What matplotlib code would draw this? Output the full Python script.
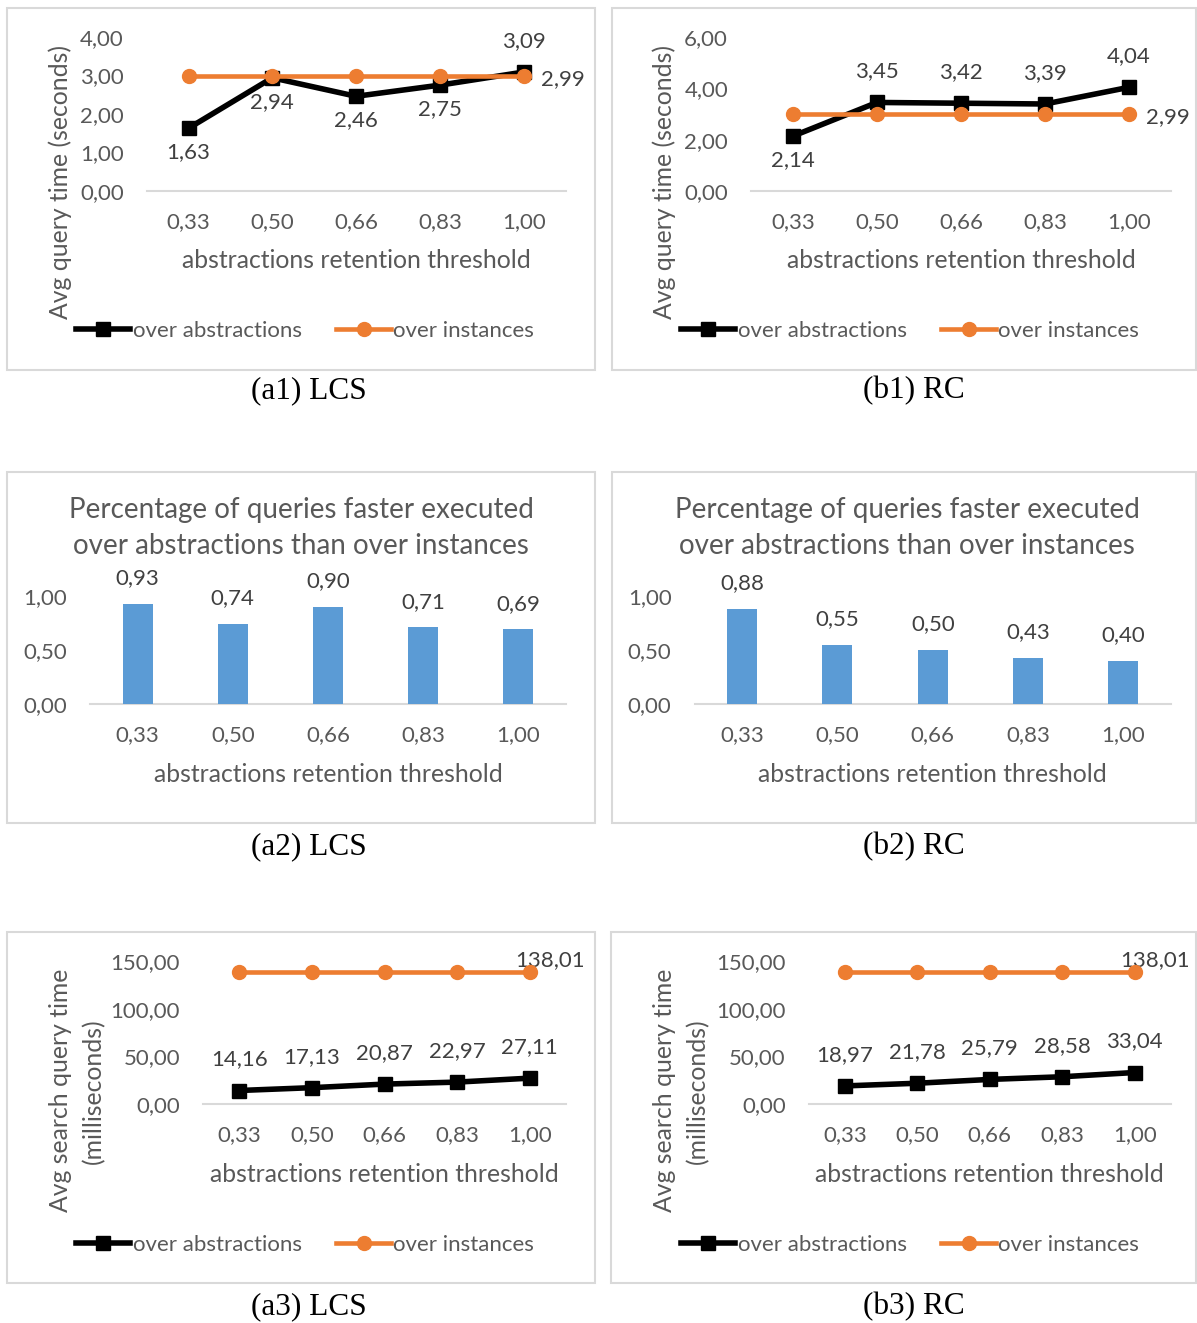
import matplotlib
matplotlib.use("Agg")
import matplotlib.pyplot as plt
from matplotlib.patches import Rectangle
import numpy as np

plt.rcParams['font.family'] = ['Lato', 'DejaVu Sans']

# data
thresholds = ["0,33", "0,50", "0,66", "0,83", "1,00"]
lcs_query_abs = [1.63, 2.94, 2.46, 2.75, 3.09]
lcs_query_inst = [2.99, 2.99, 2.99, 2.99, 2.99]
rc_query_abs = [2.14, 3.45, 3.42, 3.39, 4.04]
rc_query_inst = [2.99, 2.99, 2.99, 2.99, 2.99]
lcs_faster = [0.93, 0.74, 0.90, 0.71, 0.69]
rc_faster = [0.88, 0.55, 0.50, 0.43, 0.40]
lcs_search_abs = [14.16, 17.13, 20.87, 22.97, 27.11]
lcs_search_inst = [138.01, 138.01, 138.01, 138.01, 138.01]
rc_search_abs = [18.97, 21.78, 25.79, 28.58, 33.04]
rc_search_inst = [138.01, 138.01, 138.01, 138.01, 138.01]

# where excel put the data labels
lcs_query_pos = ['below', 'below', 'below', 'below', 'above']
rc_query_pos = ['below', 'above', 'above', 'above', 'above']
search_pos = ['above'] * 5

W, H = 1197, 1323
fig = plt.figure(figsize=(W / 100, H / 100), dpi=100)

GRAY = '#595959'
DARK = '#404040'
ORANGE = '#ED7D31'
BLUE = '#5B9BD5'
FS = 16        # ticks, legend, data labels
FS_AX = 17.8   # axis titles
FS_TI = 20     # bar chart title


def fx(x):
    return x / W


def fy(y):
    return 1 - y / H


def fmt(v):
    return f"{v:.2f}".replace('.', ',')


def make_axes(x0, x1, ytop, ybot):
    ax = fig.add_axes([fx(x0), fy(ybot), (x1 - x0) / W, (ybot - ytop) / H])
    for s in ['top', 'right', 'left']:
        ax.spines[s].set_visible(False)
    ax.spines['bottom'].set_color('#d9d9d9')
    ax.spines['bottom'].set_linewidth(1.5)
    ax.set_xlim(-0.5, 4.5)
    ax.set_xticks(np.arange(5))
    ax.set_xticklabels(thresholds)
    ax.tick_params(length=0, labelsize=FS, colors=GRAY)
    ax.tick_params(axis='y', pad=16.5)
    ax.tick_params(axis='x', pad=15.5)
    ax.set_facecolor('none')
    return ax


def label(ax, x, v, pos):
    offs = {'above': ((0, 22.3), 'center'), 'below': ((0, -17.3), 'center'),
            'right': ((12.5, -2), 'left'), 'upright': ((14.5, 8.6), 'center')}
    off, ha = offs[pos]
    ax.annotate(fmt(v), (x, v), xytext=off, textcoords='offset points',
                ha=ha, va='center', fontsize=FS, color=DARK)


def frame(x0, y0, x1, y1):
    fig.add_artist(Rectangle((fx(x0), fy(y1)), (x1 - x0) / W, (y1 - y0) / H,
                             transform=fig.transFigure, fill=False,
                             ec='#d9d9d9', lw=1.5))


def line_panel(x0, x1, ytop, ybot, abs_vals, inst_vals, ymax, ystep,
               abs_pos, inst_pos, leg_x, leg_y):
    ax = make_axes(x0, x1, ytop, ybot)
    x = np.arange(5)
    ax.plot(x, abs_vals, color='black', lw=4, marker='s', ms=9.5, zorder=3,
            label='over abstractions', clip_on=False)
    ax.plot(x, inst_vals, color=ORANGE, lw=3.3, marker='o', ms=10, zorder=4,
            label='over instances', clip_on=False)
    ax.set_ylim(0, ymax)
    yt = np.arange(0, ymax + ystep / 2, ystep)
    ax.set_yticks(yt)
    ax.set_yticklabels([fmt(v) for v in yt])
    for i, v in enumerate(abs_vals):
        label(ax, i, v, abs_pos[i])
    label(ax, 4, inst_vals[-1], inst_pos)
    ax.legend(loc='center', bbox_to_anchor=(fx(leg_x), fy(leg_y)),
              bbox_transform=fig.transFigure, ncol=2, frameon=False,
              fontsize=FS, handlelength=2.45, handletextpad=0.12,
              columnspacing=1.55, labelcolor=GRAY)
    fig.text(fx((x0 + x1) / 2), fy(ybot + 70), 'abstractions retention threshold',
             ha='center', va='center', fontsize=FS_AX, color=GRAY)
    return ax


def bar_panel(x0, x1, ytop, ybot, vals, title_x):
    ax = make_axes(x0, x1, ytop, ybot)
    x = np.arange(5)
    ax.bar(x, vals, width=0.315, color=BLUE, zorder=3)
    ax.set_ylim(0, 1)
    ax.set_yticks([0, 0.5, 1.0])
    ax.set_yticklabels([fmt(v) for v in [0, 0.5, 1.0]])
    for i, v in enumerate(vals):
        ax.annotate(fmt(v), (i, v), xytext=(0, 18.5), textcoords='offset points',
                    ha='center', va='center', fontsize=FS, color=DARK)
    fig.text(fx(title_x), fy(ytop - 86), 'Percentage of queries faster executed',
             ha='center', va='center', fontsize=FS_TI, color=GRAY)
    fig.text(fx(title_x), fy(ytop - 50), 'over abstractions than over instances',
             ha='center', va='center', fontsize=FS_TI, color=GRAY)
    fig.text(fx((x0 + x1) / 2), fy(ybot + 71), 'abstractions retention threshold',
             ha='center', va='center', fontsize=FS_AX, color=GRAY)
    return ax


# row 1: avg query time
frame(7, 8, 595, 370)
frame(612, 8, 1196, 370)
line_panel(146.6, 565.6, 37, 191, lcs_query_abs, lcs_query_inst, 4, 1,
           lcs_query_pos, 'right', 305, 331)
line_panel(751, 1171, 37, 191, rc_query_abs, rc_query_inst, 6, 2,
           rc_query_pos, 'right', 910, 331)
for xc in [60, 664]:
    fig.text(fx(xc), fy(182), 'Avg query time (seconds)', rotation=90,
             ha='center', va='center', fontsize=FS_AX, color=GRAY)

# row 2: percentage faster
frame(7, 472, 595, 823)
frame(612, 472, 1196, 823)
bar_panel(90, 566, 596, 704, lcs_faster, 301)
bar_panel(694.5, 1171, 596, 704, rc_faster, 907)

# row 3: avg search query time
frame(7, 932, 595, 1283)
frame(611, 932, 1196, 1283)
line_panel(203, 566, 961, 1104, lcs_search_abs, lcs_search_inst, 150, 50,
           search_pos, 'upright', 305, 1245)
line_panel(808.6, 1171, 961, 1104, rc_search_abs, rc_search_inst, 150, 50,
           search_pos, 'upright', 910, 1245)
for xc in [60, 664]:
    fig.text(fx(xc), fy(1090), 'Avg search query time', rotation=90,
             ha='center', va='center', fontsize=FS_AX, color=GRAY)
    fig.text(fx(xc + 34), fy(1091), '(milliseconds)', rotation=90,
             ha='center', va='center', fontsize=FS_AX, color=GRAY)

# captions under each panel
caps = [('(a1) LCS', 309, 391), ('(b1) RC', 914, 391),
        ('(a2) LCS', 309, 847), ('(b2) RC', 914, 847),
        ('(a3) LCS', 309, 1307), ('(b3) RC', 914, 1307)]
for txt, cx, cy in caps:
    fig.text(fx(cx), fy(cy), txt, ha='center', va='center',
             fontsize=22.5, family='Liberation Serif', color='black')

fig.savefig('out.png', dpi=100, facecolor='white')
